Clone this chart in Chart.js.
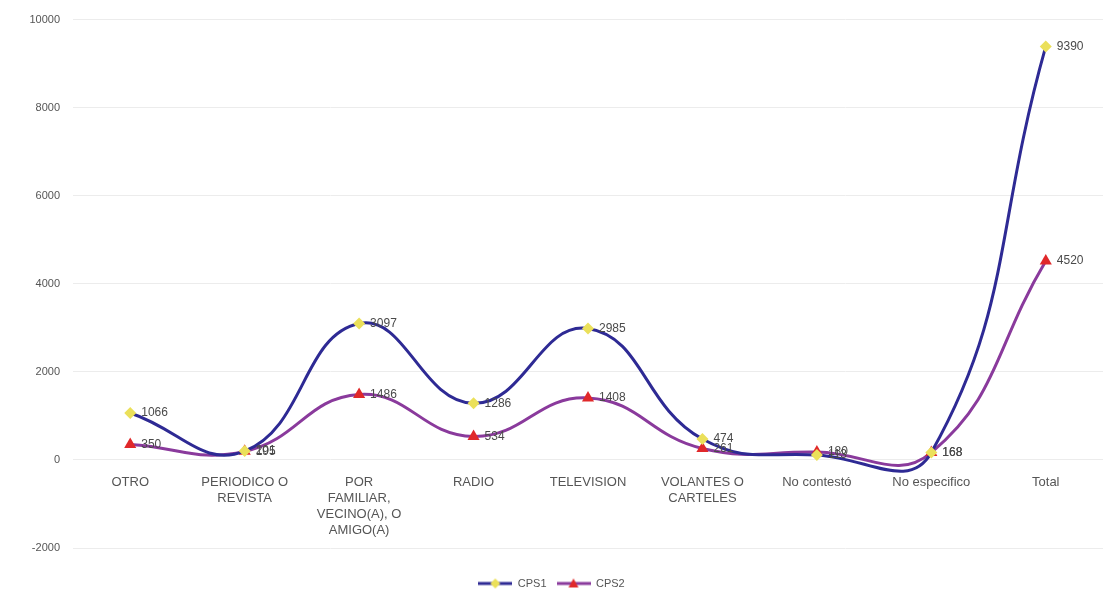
<!DOCTYPE html>
<html>
<head>
<meta charset="utf-8">
<script src="https://cdn.jsdelivr.net/npm/chart.js@4/dist/chart.umd.min.js"></script>
<style>
  html, body { margin: 0; padding: 0; background: #ffffff; }
  #wrap { width: 1118px; height: 603px; position: relative; }
</style>
</head>
<body>
<div id="wrap"><canvas id="c" width="1118" height="603"></canvas></div>
<script>
const categories = [
  'OTRO',
  ['PERIODICO O', 'REVISTA'],
  ['POR', 'FAMILIAR,', 'VECINO(A), O', 'AMIGO(A)'],
  'RADIO',
  'TELEVISION',
  ['VOLANTES O', 'CARTELES'],
  'No contestó',
  'No especifico',
  'Total'
];
const cps1Values = [1066, 201, 3097, 1286, 2985, 474, 113, 168, 9390];
const cps2Values = [350, 195, 1486, 534, 1408, 261, 180, 168, 4520];
const seriesNames = ['CPS1', 'CPS2'];
const yTicks = { min: -2000, max: 10000, step: 2000 };

const CPS1_LINE = '#2e2a94';
const CPS2_LINE = '#8a3a9c';
const CPS1_MARK = '#ebe05a';
const CPS2_MARK = '#e0282a';

function legendIcon(lineColor, markColor, triangle) {
  const cv = document.createElement('canvas');
  cv.width = 34; cv.height = 12;
  const g = cv.getContext('2d');
  g.strokeStyle = lineColor; g.lineWidth = 3;
  g.beginPath(); g.moveTo(0, 6); g.lineTo(34, 6); g.stroke();
  g.fillStyle = markColor;
  g.beginPath();
  if (triangle) { g.moveTo(17, 1); g.lineTo(22, 10); g.lineTo(12, 10); }
  else { g.moveTo(17, 1); g.lineTo(22, 6); g.lineTo(17, 11); g.lineTo(12, 6); }
  g.closePath(); g.fill();
  return cv;
}
const icons = [legendIcon(CPS1_LINE, CPS1_MARK, false), legendIcon(CPS2_LINE, CPS2_MARK, true)];

const valueLabels = {
  id: 'valueLabels',
  afterDatasetsDraw(chart) {
    const ctx = chart.ctx;
    ctx.save();
    ctx.font = '12px "Liberation Sans", Arial, sans-serif';
    ctx.fillStyle = '#4a4a4a';
    ctx.textAlign = 'left';
    ctx.textBaseline = 'middle';
    chart.data.datasets.forEach((ds, di) => {
      const meta = chart.getDatasetMeta(di);
      meta.data.forEach((pt, i) => {
        ctx.fillText(String(ds.data[i]), pt.x + 11, pt.y);
      });
    });
    ctx.restore();
  }
};

new Chart(document.getElementById('c'), {
  type: 'line',
  data: {
    labels: categories,
    datasets: [
      {
        label: seriesNames[0],
        data: cps1Values,
        borderColor: CPS1_LINE,
        borderWidth: 3,
        backgroundColor: CPS1_MARK,
        pointStyle: 'rectRot',
        pointRadius: 6,
        pointBorderWidth: 0,
        pointBackgroundColor: CPS1_MARK,
        tension: 0.45,
        fill: false
      },
      {
        label: seriesNames[1],
        data: cps2Values,
        borderColor: CPS2_LINE,
        borderWidth: 3,
        backgroundColor: CPS2_MARK,
        pointStyle: 'triangle',
        pointRadius: 7,
        pointBorderWidth: 0,
        pointBackgroundColor: CPS2_MARK,
        tension: 0.45,
        fill: false
      }
    ]
  },
  options: {
    responsive: false,
    animation: false,
    layout: { padding: { top: 10, right: 15, left: 0, bottom: 4 } },
    plugins: {
      tooltip: { enabled: false },
      legend: {
        position: 'bottom',
        title: { display: true, text: ' ', font: { size: 10 }, padding: { top: 8, bottom: 0 } },
        labels: {
          usePointStyle: true,
          pointStyleWidth: 34,
          boxHeight: 12,
          padding: 10,
          color: '#555555',
          font: { size: 11, family: '"Liberation Sans", Arial, sans-serif' },
          generateLabels(chart) {
            const items = Chart.defaults.plugins.legend.labels.generateLabels(chart);
            items.forEach((it, i) => { it.pointStyle = icons[i]; });
            return items;
          }
        }
      }
    },
    scales: {
      x: {
        position: { y: 0 },
        offset: true,
        grid: { display: false, drawTicks: false, offset: true },
        border: { display: false },
        ticks: {
          color: '#555555',
          padding: 14,
          maxRotation: 0,
          autoSkip: false,
          font: { size: 13, lineHeight: 1.25, family: '"Liberation Sans", Arial, sans-serif' }
        }
      },
      y: {
        min: yTicks.min,
        max: yTicks.max,
        grid: { color: '#ececec', lineWidth: 1, drawTicks: false },
        border: { display: false },
        afterFit(scale) { scale.width = 73; },
        ticks: {
          stepSize: yTicks.step,
          color: '#555555',
          padding: 13,
          callback: (v) => String(v),
          font: { size: 11, family: '"Liberation Sans", Arial, sans-serif' }
        }
      }
    }
  },
  plugins: [valueLabels]
});
</script>
</body>
</html>
